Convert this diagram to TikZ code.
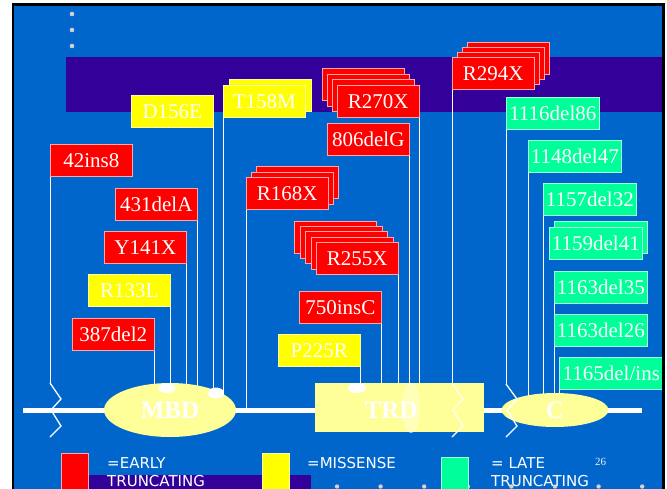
\documentclass[tikz,border=0pt]{standalone}
\usepackage{fontspec}
\setmainfont{Liberation Serif}
\newfontfamily\legendfont{DejaVu Sans}
\usetikzlibrary{shapes.geometric}
\definecolor{slideblue}{RGB}{0,102,204}
\definecolor{bandpurple}{RGB}{51,0,153}
\definecolor{earlyred}{RGB}{255,0,0}
\definecolor{misyellow}{RGB}{255,255,0}
\definecolor{lategreen}{RGB}{0,255,153}
\definecolor{domyellow}{RGB}{255,255,153}

\begin{document}
\begin{tikzpicture}[x=1pt, y=-1pt,
	mut/.style={draw=white!65!#1, line width=0.6pt, fill=#1, text=white,
		font=\fontsize{21}{21}\selectfont, minimum width=82pt, minimum height=32pt,
		inner sep=0pt, anchor=north west},
	early/.style={mut=earlyred},
	missense/.style={mut=misyellow},
	late/.style={mut=lategreen, minimum width=93pt},
	link/.style={white, line width=0.9pt},
	brk/.style={white, line width=1.3pt, line join=miter},
	dom/.style={fill=domyellow, text=white, font=\fontsize{25}{25}\selectfont\bfseries, inner sep=0pt},
	key/.style={line width=0.6pt, minimum width=27pt, minimum height=38pt, inner sep=0pt, anchor=north west},
	legend/.style={text=white, font=\legendfont\fontsize{15}{18}\selectfont, align=left, anchor=base west, inner sep=0pt}]
	\useasboundingbox (0,0) rectangle (667,488);

	% slide background
	\fill[slideblue] (12,4) rectangle (664,492);
	\fill[bandpurple] (66,57) rectangle (663,112);
	\fill[bandpurple] (88,475) rectangle (311,492);
	\foreach \y in {14,30,46}
		\fill[gray!35] (72,\y) circle (2.3pt);
	\foreach \i in {0,...,7}
		\fill[gray!35] (337+43.6*\i,486.5) circle (2.2pt);

	\coordinate (spine) at (0,410);
	\coordinate (zl) at (50,383);
	\coordinate (zt) at (452,383);
	\coordinate (zc) at (506,384);

	% mutations
	\node[early] (n42) at (50,144) {42ins8};
	\node[early] (n431) at (115,188) {431delA};
	\node[early] (nY141) at (104,231) {Y141X};
	\node[missense] (nR133) at (88,274) {R133L};
	\node[early] (n387) at (72,318) {387del2};
	\node[missense] (nD156) at (131,95) {D156E};
	\node[missense] (nT158b) at (229,79) {};
	\node[missense] (nT158) at (223,85) {T158M};
	\foreach \k in {2,1}
		\node[early] (nR168b\k) at ([shift={(5*\k,-5.5*\k)}]246,177) {};
	\node[early] (nR168) at (246,177) {R168X};
	\foreach \k in {3,2,1}
		\node[early] (nR270b\k) at ([shift={(-5*\k,-5.7*\k)}]337,85) {};
	\node[early] (nR270) at (337,85) {R270X};
	\node[early] (n806) at (327,123) {806delG};
	\foreach \k in {4,3,2,1}
		\node[early] (nR255b\k) at ([shift={(-5.5*\k,-5.3*\k)}]316,242) {};
	\node[early] (nR255) at (316,242) {R255X};
	\node[early] (n750) at (299,291) {750insC};
	\node[missense] (nP225) at (278,334) {P225R};
	\foreach \k in {3,2,1}
		\node[early] (nR294b\k) at ([shift={(5*\k,-5*\k)}]452,57) {};
	\node[early] (nR294) at (452,57) {R294X};
	\node[late] (n1116) at (506,97) {1116del86};
	\node[late] (n1148) at (528,140) {1148del47};
	\node[late] (n1157) at (543,183) {1157del32};
	\node[late] (n1159b) at (554,221) {};
	\node[late] (n1159) at (549,227) {1159del41};
	\node[late] (n1163a) at (554,271) {1163del35};
	\node[late] (n1163b) at (554,314) {1163del26};
	\node[late, minimum width=104pt] (n1165) at (559,357) {1165del/ins};

	% connectors
	\draw[link] (n42.south west) -- (zl);
	\foreach \n in {n431,nY141,nR133,n387,nD156,nR270,n806,nR255,n750,nP225}
		\draw[link] (\n.south east) -- (\n.south east |- spine);
	\foreach \n in {nT158,nR168,nR294,n1148,n1157,n1163b,n1165}
		\draw[link] (\n.south west) -- (\n.south west |- spine);
	\draw[link] (n1163a.south west) -- (n1163b.north west);
	\draw[link] (n1116.south west) -- (zc);

	% protein
	\draw[white, line width=5pt] (23,410) -- (642,410);
	\draw[brk] (zl) -- ++(11,16) -- ++(-10,11) -- ++(10,16) -- ++(-11,11);
	\node[dom, ellipse, minimum width=132pt, minimum height=54pt] (mbd) at (170,410) {MBD};
	\fill[white] (167,388) ellipse (8.5pt and 5pt);
	\fill[white] (216,393) ellipse (8pt and 5.5pt);
	\fill[domyellow] (315,383) rectangle (484,432);
	\filldraw[fill=white, fill opacity=0.3, draw=white, draw opacity=0.7, line width=0.6pt] (411,408) ellipse (8pt and 24.5pt);
	\node[dom, fill=none] (trd) at (391,410) {TRD};
	\fill[white] (357,388) ellipse (9pt and 5pt);
	\draw[brk, white!85!domyellow] (zt) -- ++(11,16) -- ++(-10,11) -- ++(10,16) -- ++(-11,11);
	\node[dom, ellipse, minimum width=107pt, minimum height=34pt] (cdom) at (555,410) {C};
	\draw[brk] (zc) -- ++(11,15) -- ++(-10,11) -- ++(10,16) -- ++(-11,11);

	% legend
	\node[key, fill=earlyred, draw=white!65!earlyred] (kearly) at (61,453) {};
	\node[legend] (tearly) at (107,486) {=EARLY\\TRUNCATING};
	\node[key, fill=misyellow, draw=white!65!misyellow] (kmis) at (262,453) {};
	\node[legend] (tmis) at (307,468) {=MISSENSE};
	\node[key, fill=lategreen, draw=white!65!lategreen, minimum height=34pt] (klate) at (441,457) {};
	\node[legend] (tlate) at (491,486) {= LATE\\TRUNCATING};
	\node[text=gray!15, font=\fontsize{11}{11}\selectfont, anchor=base west, inner sep=0pt] (pnum) at (595,465) {26};

	\draw[black, line width=2.5pt] (13,500) -- (13,4.5) -- (663.5,4.5) -- (663.5,500);
\end{tikzpicture}
\end{document}
